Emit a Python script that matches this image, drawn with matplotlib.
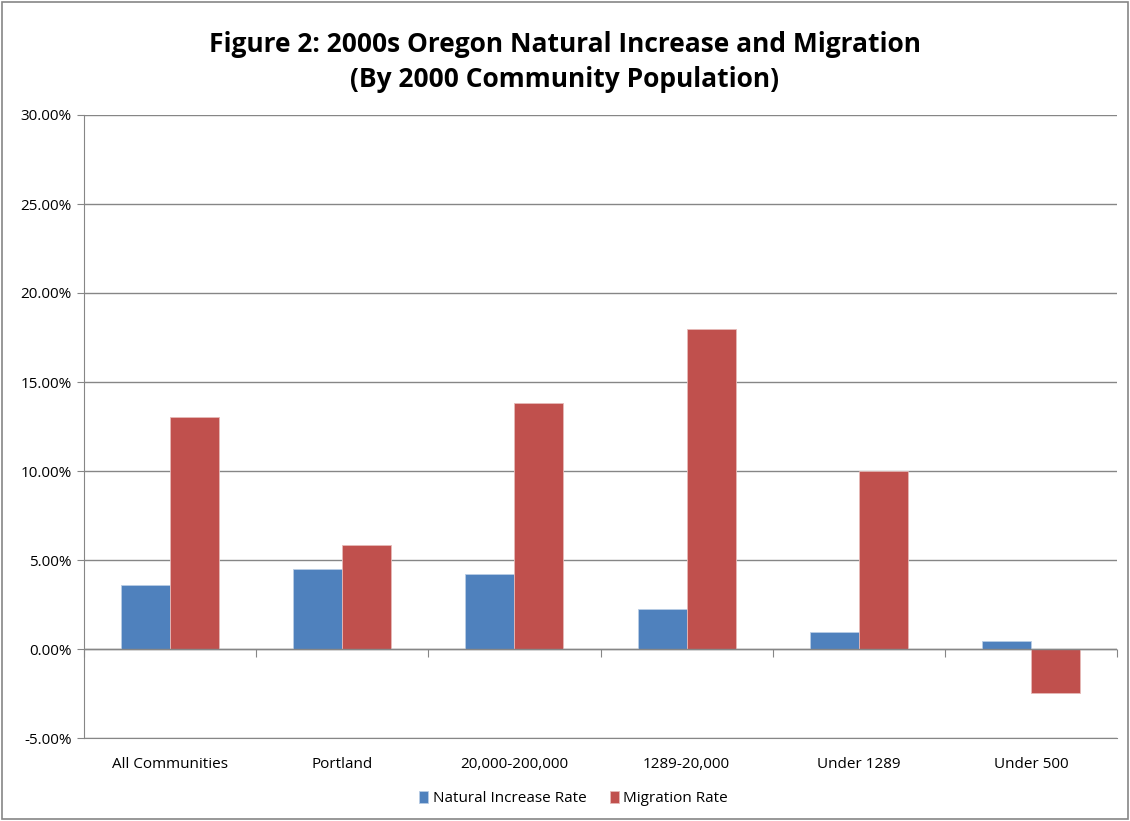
import matplotlib
matplotlib.use('Agg')
import matplotlib.pyplot as plt
from matplotlib.patches import Rectangle
from matplotlib.ticker import FuncFormatter, MultipleLocator
import numpy as np

# Oregon 2000s natural increase vs migration, by community size
categories = ['All Communities', 'Portland', '20,000-200,000', '1289-20,000',
              'Under 1289', 'Under 500']
natural_increase = [3.61, 4.47, 4.19, 2.25, 0.97, 0.45]
migration = [13.03, 5.84, 13.84, 17.98, 10.00, -2.45]

plt.rcParams['font.family'] = ['Open Sans', 'DejaVu Sans']

fig = plt.figure(figsize=(11.3, 8.21), dpi=100)
ax = fig.add_axes([84 / 1130, 1 - 738 / 821, (1117 - 84) / 1130, (738 - 115) / 821])

x = np.arange(len(categories))
w = 0.285
ax.bar(x - w / 2, natural_increase, w, color='#4F81BD', edgecolor='#B9CDE5',
       linewidth=0.6, label='Natural Increase Rate', zorder=3)
ax.bar(x + w / 2, migration, w, color='#C0504D', edgecolor='#E6B9B8',
       linewidth=0.6, label='Migration Rate', zorder=3)

ymin, ymax = -5, 30
ax.set_xlim(-0.5, len(categories) - 0.5)
ax.set_ylim(ymin, ymax)
ax.yaxis.set_major_locator(MultipleLocator(5))
ax.yaxis.set_major_formatter(FuncFormatter(lambda v, p: f'{v:.2f}%'))
ax.grid(axis='y', color='#868686', linewidth=1.0, zorder=0)
ax.axhline(0, color='#868686', linewidth=1.0, zorder=4)

for s in ['top', 'right']:
    ax.spines[s].set_visible(False)
ax.spines['left'].set_color('#868686')
ax.spines['bottom'].set_color('#868686')

# category labels below the plot
ax.set_xticks(x)
ax.set_xticklabels(categories, fontsize=11)
ax.tick_params(axis='x', length=0, pad=14)
ax.tick_params(axis='y', labelsize=11, length=5, color='#868686', pad=4)

# boundary ticks hang from the zero line
zero_ax = ax.secondary_xaxis((0 - ymin) / (ymax - ymin))
zero_ax.set_xticks(np.arange(len(categories) + 1) - 0.5)
zero_ax.set_xticklabels([])
zero_ax.tick_params(length=6, color='#868686', direction='out')
zero_ax.spines['bottom'].set_visible(False)

fig.suptitle('Figure 2: 2000s Oregon Natural Increase and Migration\n(By 2000 Community Population)',
             fontsize=19, fontweight='bold', y=0.962, linespacing=1.38)

ax.legend(loc='center', bbox_to_anchor=(0.474, -0.097), ncol=2, frameon=False,
          fontsize=11, handlelength=0.6, handleheight=0.9, columnspacing=1.5,
          handletextpad=0.3)

fig.patches.append(Rectangle((0.002, 0.002), 0.996, 0.996, transform=fig.transFigure,
                             fill=False, edgecolor='#868686', linewidth=1.2))

fig.savefig('out.png', dpi=100)
